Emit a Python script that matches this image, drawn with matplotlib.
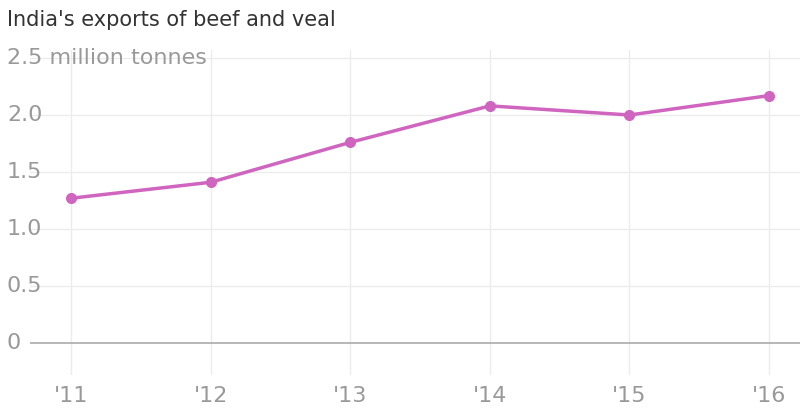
import matplotlib
matplotlib.use("Agg")
import matplotlib.pyplot as plt
import matplotlib.transforms as mtransforms

years = [2011, 2012, 2013, 2014, 2015, 2016]
year_labels = ["'11", "'12", "'13", "'14", "'15", "'16"]
exports = [1.27, 1.41, 1.76, 2.08, 2.00, 2.17]
yticks = [0, 0.5, 1.0, 1.5, 2.0, 2.5]
ytick_labels = ["0", "0.5", "1.0", "1.5", "2.0", "2.5 million tonnes"]

fig = plt.figure(figsize=(8, 4.17), dpi=100)
ax = fig.add_axes([30/800, 42/417, 770/800, 325/417])
ax.set_xlim(2010.706, 2016.222)
ax.set_ylim(-0.28, 2.57)
for s in ax.spines.values():
    s.set_visible(False)
ax.set_xticks(years)
ax.set_xticklabels(year_labels, fontsize=16, color="#999999")
ax.tick_params(axis="x", length=0, pad=8)
ax.set_yticks([])
for y in yticks:
    ax.axhline(y, color="#aaaaaa" if y == 0 else "#ececec", lw=1.2 if y == 0 else 1, zorder=1)
for x in years:
    ax.axvline(x, color="#ececec", lw=1, zorder=0)
trans = mtransforms.blended_transform_factory(fig.transFigure, ax.transData)
for y, lab in zip(yticks, ytick_labels):
    ax.text(7/800, y, lab, transform=trans, ha="left", va="center",
            fontsize=16, color="#999999", zorder=2)
ax.plot(years, exports, color="#d065c0", lw=2.5, marker="o", markersize=7, zorder=3)
fig.text(7/800, 1 - 20/417, "India's exports of beef and veal", fontsize=15,
         color="#333333", ha="left", va="center")
fig.savefig("out.png", dpi=100)
